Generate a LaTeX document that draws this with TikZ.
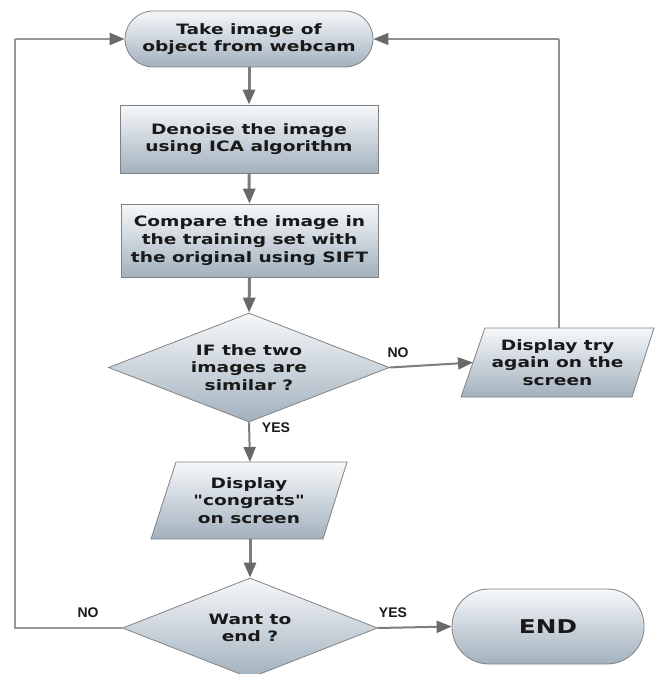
\documentclass[tikz,border=0pt]{standalone}
\usepackage{fontspec}
\setmainfont{DejaVu Sans}
\newfontfamily\boxfont{DejaVu Sans}[FakeStretch=1.3]
\newfontfamily\lblfont{Liberation Sans}
\usetikzlibrary{arrows.meta,shapes.geometric}
\definecolor{topc}{RGB}{246,248,250}
\definecolor{botc}{RGB}{162,177,190}
\definecolor{edgec}{RGB}{130,130,130}
\definecolor{linec}{RGB}{125,125,125}
\definecolor{tipc}{RGB}{105,105,105}
\definecolor{txtc}{RGB}{25,25,25}
\tikzset{
  boxfill/.style={top color=topc, bottom color=botc, draw=edgec, line width=0.8pt},
  term/.style={boxfill, rectangle, inner sep=0pt},
  procbox/.style={boxfill, rectangle, inner sep=0pt},
  txt/.style={font=\boxfont\bfseries\fontsize{14.3}{17.7}\selectfont, text=txtc, align=center, inner sep=0pt},
  lbl/.style={font=\lblfont\bfseries\fontsize{14}{15}\selectfont, text=txtc, inner sep=0pt},
  flow/.style={draw=linec, line width=3pt, -{Triangle[length=15pt,width=12pt,fill=tipc,color=tipc]}},
  loopl/.style={draw=linec!80, line width=2.2pt},
  thinl/.style={draw=linec!85, line width=1.5pt},
}
\begin{document}
\begin{tikzpicture}[x=1pt,y=-1pt]
\useasboundingbox (0,0) rectangle (657,674);
% start
\node[term, minimum width=248pt, minimum height=56pt, rounded corners=28pt] (start) at (249,39) {};
\node[txt] (starttxt) at (249,39) {Take image of\\object from webcam};
% denoise
\node[procbox, minimum width=258pt, minimum height=68pt] (den) at (249,139) {};
\node[txt] (dentxt) at (249,139) {Denoise the image\\using ICA algorithm};
% compare
\node[procbox, minimum width=257pt, minimum height=73pt] (cmp) at (249.5,240.5) {};
\node[txt] (cmptxt) at (249.5,240.5) {Compare the image in\\the training set with\\the original using SIFT};
% decision 1
\node[boxfill, diamond, inner sep=0pt, minimum width=281pt, minimum height=109pt] (d1) at (249,367.5) {};
\node[txt] (d1txt) at (249,367.5) {IF the two\\images are\\similar ?};
% try again parallelogram
\path[boxfill] (461,397) coordinate (tabl) -- (485,328) coordinate (tatl) -- (654,328) coordinate (tatr) -- (632,397) coordinate (tabr) -- cycle;
\coordinate (tatop) at (559,328);
\coordinate (taleft) at (473,362.5);
\node[txt] (tatxt) at (557.5,362.5) {Display try\\again on the\\screen};
% congrats parallelogram
\path[boxfill] (151,539) coordinate (cgbl) -- (176,462) coordinate (cgtl) -- (347,462) coordinate (cgtr) -- (323,539) coordinate (cgbr) -- cycle;
\coordinate (cgtop) at (250,462);
\coordinate (cgbot) at (250,539);
\node[txt] (cgtxt) at (249,500.5) {Display\\"congrats"\\on screen};
% decision 2
\node[boxfill, diamond, inner sep=0pt, minimum width=255pt, minimum height=100pt] (d2) at (250,628) {};
\node[txt] (d2txt) at (250,628) {Want to\\end ?};
% END
\node[term, minimum width=192pt, minimum height=75pt, rounded corners=37pt] (endn) at (548,626.5) {};
\node[txt, font=\boxfont\bfseries\fontsize{19}{22}\selectfont] (endtxt) at (548,626.5) {END};
% loop coordinates
\coordinate (ltop) at (15,39);
\coordinate (lbot) at (15,628);
\coordinate (rtop) at (559,39);
% connectors
\draw[flow] (start.south) -- (den.north);
\draw[flow] (den.south) -- (cmp.north);
\draw[flow] (cmp.south) -- (d1.north);
\draw[flow, line width=2pt] (d1.east) -- (taleft);
\draw[flow, line width=2pt] (d1.south) -- (cgtop);
\draw[flow] (cgbot) -- (d2.north);
\draw[flow, line width=2pt] (d2.east) -- (endn.west);
\draw[loopl] (d2.west) -- (lbot) -- (ltop);
\draw[flow, line width=2.2pt, draw=linec!80] (ltop) -- (start.west);
\draw[thinl] (tatop) -- (rtop);
\draw[flow, line width=1.5pt, draw=linec!85] (rtop) -- (start.east);
% labels
\node[lbl] (no1) at (398,353) {NO};
\node[lbl] (yes1) at (276,428) {YES};
\node[lbl] (no2) at (88,613) {NO};
\node[lbl] (yes2) at (393,613) {YES};
\end{tikzpicture}
\end{document}
